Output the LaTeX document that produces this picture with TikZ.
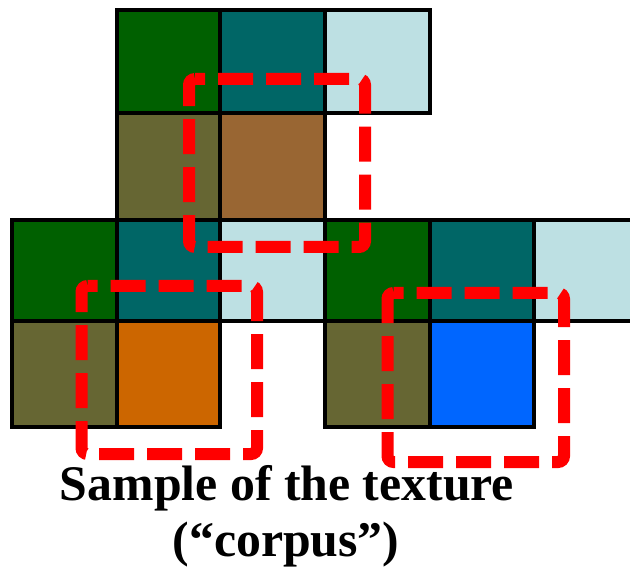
\documentclass[tikz,border=0pt]{standalone}
\usepackage{fontspec}
\setmainfont{Liberation Serif}
\definecolor{cgreen}{HTML}{006000}
\definecolor{cteal}{HTML}{006666}
\definecolor{clight}{HTML}{BDE0E3}
\definecolor{colive}{HTML}{666633}
\definecolor{cbrown}{HTML}{996633}
\definecolor{corange}{HTML}{CC6600}
\definecolor{cblue}{HTML}{0066FF}
\tikzset{
  cell/.style={draw=black, line width=4pt},
  sel/.style={draw=red, line width=12pt, dash pattern=on 35pt off 13pt, dash phase=25pt, rounded corners=6pt},
  caption/.style={font=\fontsize{49.8}{56}\selectfont\bfseries, inner sep=0pt, anchor=base}
}
\begin{document}
\begin{tikzpicture}[x=1pt,y=-1pt]
\useasboundingbox (0,0) rectangle (630,572);
% top block
\path[cell, fill=cgreen] (117,10) rectangle (220,113.5);
\path[cell, fill=cteal] (220,10) rectangle (324.5,113.5);
\path[cell, fill=clight] (324.5,10) rectangle (430,113.5);
\path[cell, fill=colive] (117,113.5) rectangle (220,220);
\path[cell, fill=cbrown] (220,113.5) rectangle (324.5,220);
% third row
\path[cell, fill=cgreen] (12,220) rectangle (117,321);
\path[cell, fill=cteal] (117,220) rectangle (220,321);
\path[cell, fill=clight] (220,220) rectangle (324.5,321);
\path[cell, fill=cgreen] (324.5,220) rectangle (430,321);
\path[cell, fill=cteal] (430,220) rectangle (534,321);
\path[cell, fill=clight] (534,220) rectangle (640,321);
% fourth row
\path[cell, fill=colive] (12,321) rectangle (117,427);
\path[cell, fill=corange] (117,321) rectangle (220,427);
\path[cell, fill=colive] (324.5,321) rectangle (430,427);
\path[cell, fill=cblue] (430,321) rectangle (534,427);
% red selections
\draw[sel] (189,79) -- (365,79) -- (365,247) -- (189,247) -- cycle;
\draw[sel] (81.5,286) -- (257,286) -- (257,454) -- (81.5,454) -- cycle;
\draw[sel] (387.5,293) -- (564,293) -- (564,462) -- (387.5,462) -- cycle;
% caption
\node[caption] (title1) at (287,500) {Sample of the texture};
\node[caption] (title2) at (286,556) {(“corpus”)};
\end{tikzpicture}
\end{document}
